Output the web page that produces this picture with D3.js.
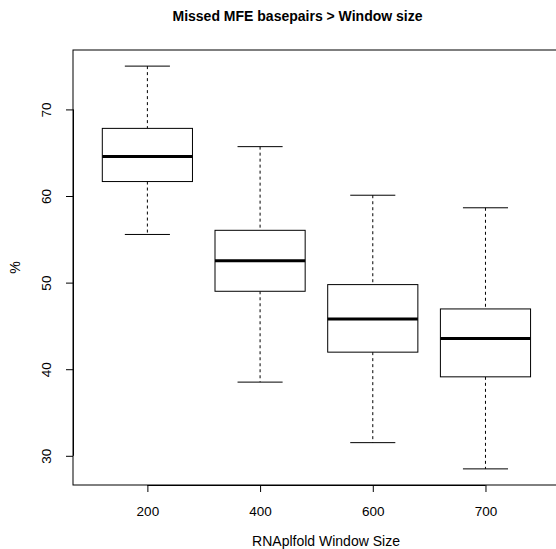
<!DOCTYPE html>
<html>
<head>
<meta charset="utf-8">
<script src="https://cdn.jsdelivr.net/npm/d3@7"></script>
<style>
  body { margin: 0; background: #fff; }
  svg { display: block; font-family: "Liberation Sans", Arial, Helvetica, sans-serif; }
  .axis text { font-size: 13.5px; fill: #000; }
  .axis path, .axis line { stroke: #000; }
</style>
</head>
<body>
<div id="chart"></div>
<script>
// window sizes on the x axis
const categories = ["200", "400", "600", "700"];
// five-number summaries (%)
const lowerWhisker = [55.56, 38.51, 31.52, 28.49];
const q1           = [61.67, 49.00, 41.97, 39.12];
const medians      = [64.55, 52.53, 45.81, 43.55];
const q3           = [67.81, 56.04, 49.77, 46.96];
const upperWhisker = [75.00, 65.70, 60.09, 58.64];
const yTicks = [30, 40, 50, 60, 70];

const width = 556, height = 549;
const plot = {left: 73, top: 50, bottom: 485};

const boxes = categories.map((c, i) => ({
    cat: c, idx: i + 1,
    lo: lowerWhisker[i], q1: q1[i], med: medians[i], q3: q3[i], hi: upperWhisker[i]
}));

// R style: xlim = c(0.5, n + 0.5) stretched by 4%
const n = categories.length;
const xPad = n * 0.04;
const xDomain = [0.5 - xPad, n + 0.5 + xPad];
const unit = 112.7; // px per category, measured
const x = d3.scaleLinear()
    .domain(xDomain)
    .range([plot.left, plot.left + (xDomain[1] - xDomain[0]) * unit]);

const yMin = d3.min(lowerWhisker), yMax = d3.max(upperWhisker);
const yPad = (yMax - yMin) * 0.04;
const y = d3.scaleLinear()
    .domain([yMin - yPad, yMax + yPad])
    .range([plot.bottom, plot.top]);

const svg = d3.select("#chart").append("svg")
    .attr("width", width)
    .attr("height", height);

const boxW = 0.8, capW = 0.4;

const g = svg.selectAll("g.box")
    .data(boxes)
    .enter().append("g")
    .attr("class", "box");

// dashed whiskers
g.append("line")
    .attr("x1", d => x(d.idx)).attr("x2", d => x(d.idx))
    .attr("y1", d => y(d.hi)).attr("y2", d => y(d.q3))
    .attr("stroke", "#000").attr("stroke-dasharray", "3,3");
g.append("line")
    .attr("x1", d => x(d.idx)).attr("x2", d => x(d.idx))
    .attr("y1", d => y(d.q1)).attr("y2", d => y(d.lo))
    .attr("stroke", "#000").attr("stroke-dasharray", "3,3");

// staples
g.append("line")
    .attr("x1", d => x(d.idx - capW / 2)).attr("x2", d => x(d.idx + capW / 2))
    .attr("y1", d => y(d.hi)).attr("y2", d => y(d.hi))
    .attr("stroke", "#000");
g.append("line")
    .attr("x1", d => x(d.idx - capW / 2)).attr("x2", d => x(d.idx + capW / 2))
    .attr("y1", d => y(d.lo)).attr("y2", d => y(d.lo))
    .attr("stroke", "#000");

// box
g.append("rect")
    .attr("x", d => x(d.idx - boxW / 2))
    .attr("width", d => x(d.idx + boxW / 2) - x(d.idx - boxW / 2))
    .attr("y", d => y(d.q3))
    .attr("height", d => y(d.q1) - y(d.q3))
    .attr("fill", "#fff").attr("stroke", "#000");

// median
g.append("line")
    .attr("x1", d => x(d.idx - boxW / 2)).attr("x2", d => x(d.idx + boxW / 2))
    .attr("y1", d => y(d.med)).attr("y2", d => y(d.med))
    .attr("stroke", "#000").attr("stroke-width", 3);

// frame
svg.append("rect")
    .attr("x", x.range()[0]).attr("y", plot.top)
    .attr("width", x.range()[1] - x.range()[0])
    .attr("height", plot.bottom - plot.top)
    .attr("fill", "none").attr("stroke", "#000");

// axes
const xAxis = svg.append("g").attr("class", "axis")
    .attr("transform", `translate(0,${plot.bottom})`)
    .call(d3.axisBottom(x)
        .tickValues(d3.range(1, n + 1))
        .tickFormat(i => categories[i - 1])
        .tickSize(7).tickPadding(14).tickSizeOuter(0));
xAxis.select(".domain")
    .attr("d", `M${x(1)},0.5H${x(n)}`);
xAxis.selectAll("text").attr("font-family", "Liberation Sans, Arial, sans-serif");

const yAxis = svg.append("g").attr("class", "axis")
    .attr("transform", `translate(${plot.left},0)`)
    .call(d3.axisLeft(y).tickValues(yTicks).tickSize(7).tickSizeOuter(0));
yAxis.select(".domain")
    .attr("d", `M0.5,${y(yTicks[0])}V${y(yTicks[yTicks.length - 1])}`);
yAxis.selectAll("text")
    .attr("x", null).attr("dy", null)
    .attr("text-anchor", "middle")
    .attr("transform", "translate(-22,0) rotate(-90)")
    .attr("font-family", "Liberation Sans, Arial, sans-serif");

// titles
svg.append("text")
    .attr("x", 297.5).attr("y", 21)
    .attr("text-anchor", "middle")
    .attr("font-size", 14).attr("font-weight", "bold")
    .text("Missed MFE basepairs > Window size");

svg.append("text")
    .attr("x", 326).attr("y", 546)
    .attr("text-anchor", "middle")
    .attr("font-size", 14)
    .text("RNAplfold Window Size");

svg.append("text")
    .attr("transform", `translate(20,${(plot.top + plot.bottom) / 2}) rotate(-90)`)
    .attr("text-anchor", "middle")
    .attr("font-size", 14)
    .text("%");
</script>
</body>
</html>
